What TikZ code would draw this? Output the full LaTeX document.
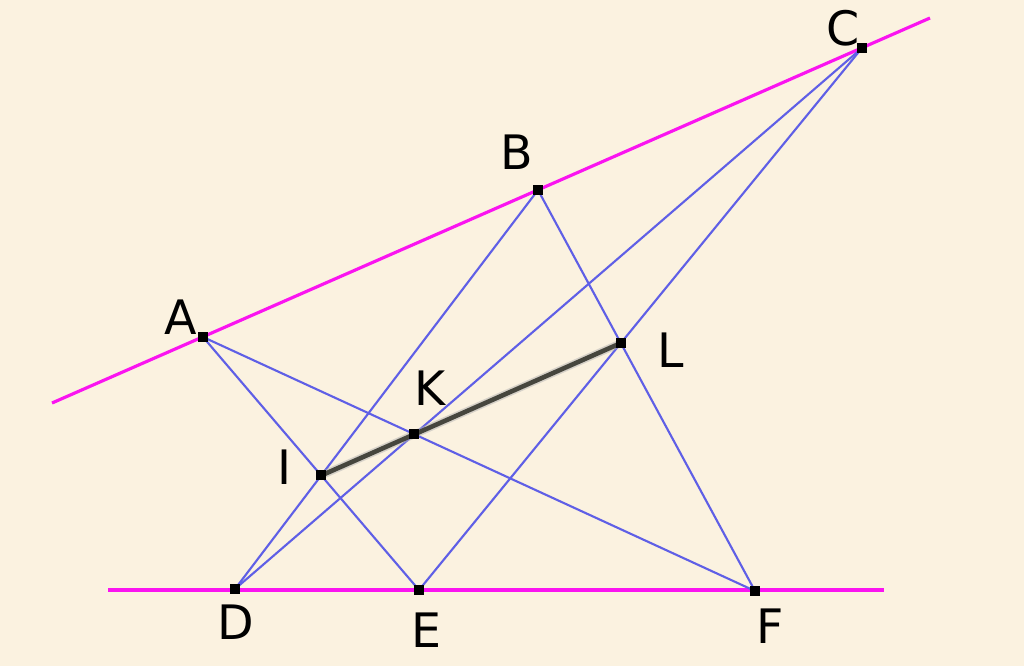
\documentclass[tikz,border=0pt]{standalone}
\usepackage{fontspec}
\setmainfont{DejaVu Sans}
\definecolor{bg}{RGB}{251,242,224}
\definecolor{mag}{RGB}{250,20,240}
\definecolor{blu}{RGB}{95,95,230}
\definecolor{grayline}{RGB}{70,70,62}
\begin{document}
\begin{tikzpicture}[x=0.01cm,y=-0.01cm,
  magline/.style={mag,line width=0.9pt},
  blueline/.style={blu,line width=0.6pt},
  pappus/.style={grayline,line width=1.3pt},
  pt/.style={fill=black,inner sep=0pt,minimum size=0.1cm,rectangle},
  lab/.style={font=\fontsize{13.5}{14}\selectfont,inner sep=0pt}]
\fill[bg] (0,0) rectangle (1024,666);
\useasboundingbox (0,0) rectangle (1024,666);
% base points
\coordinate (A) at (203,337);
\coordinate (B) at (538,190);
\coordinate (C) at (862,48);
\coordinate (D) at (235,589);
\coordinate (E) at (419,590);
\coordinate (F) at (755,591);
% line ends
\coordinate (T1) at (52,403);
\coordinate (T2) at (930,18);
\coordinate (B1) at (108,590);
\coordinate (B2) at (884,590);
% intersections
\coordinate (I) at (intersection of A--E and B--D);
\coordinate (K) at (intersection of A--F and C--D);
\coordinate (L) at (intersection of B--F and C--E);
% pink lines
\draw[magline] (T1) -- (T2);
\draw[magline] (B1) -- (B2);
% blue lines
\draw[blueline] (A) -- (E);
\draw[blueline] (A) -- (F);
\draw[blueline] (B) -- (D);
\draw[blueline] (B) -- (F);
\draw[blueline] (C) -- (D);
\draw[blueline] (C) -- (E);
% pappus line
\draw[gray!60,line width=2.2pt,opacity=0.5] (I) -- (L);
\draw[pappus] (I) -- (L);
% markers
\foreach \p in {A,B,C,D,E,F,I,K,L}{\node[pt] (m\p) at (\p) {};}
% labels
\node[lab] (lA) at (181,317) {A};
\node[lab] (lB) at (517,152) {B};
\node[lab] (lC) at (843,28) {C};
\node[lab] (lD) at (236,622) {D};
\node[lab] (lE) at (426,630) {E};
\node[lab] (lF) at (770,626) {F};
\node[lab] (lI) at (284,467) {I};
\node[lab] (lK) at (430,388) {K};
\node[lab] (lL) at (671,350) {L};
\end{tikzpicture}
\end{document}
